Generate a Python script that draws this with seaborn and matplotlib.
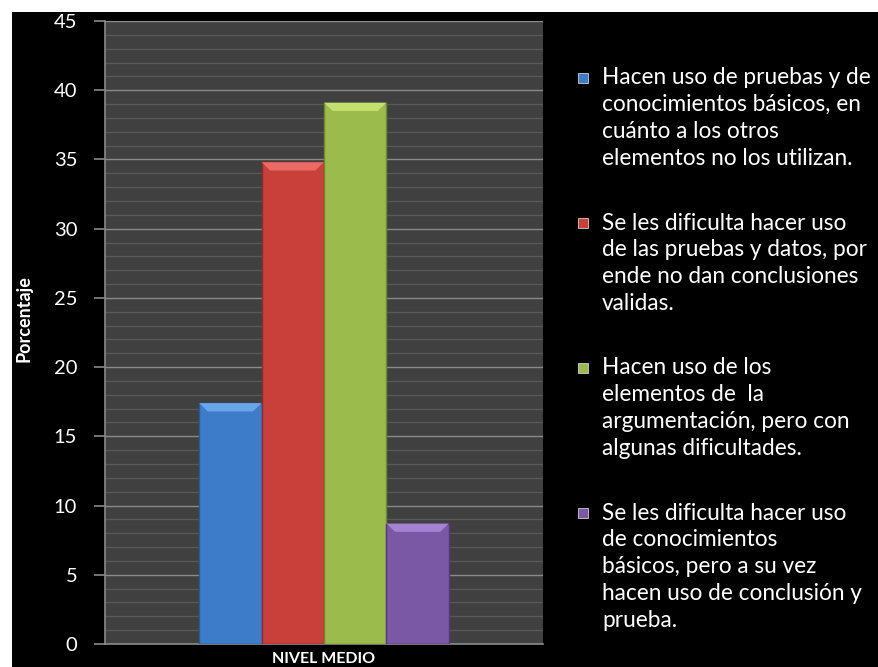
import matplotlib
matplotlib.use("Agg")
import matplotlib.pyplot as plt
from matplotlib.patches import Rectangle, Polygon
from matplotlib.ticker import MultipleLocator
import seaborn as sns
import pandas as pd

# Data
nivel = ["NIVEL MEDIO"]
categorias = [
    "Hacen uso de pruebas y de\nconocimientos básicos, en\ncuánto a los otros\nelementos no los utilizan.",
    "Se les dificulta hacer uso\nde las pruebas y datos, por\nende no dan conclusiones\nvalidas.",
    "Hacen uso de los\nelementos de  la\nargumentación, pero con\nalgunas dificultades.",
    "Se les dificulta hacer uso\nde conocimientos\nbásicos, pero a su vez\nhacen uso de conclusión y\nprueba.",
]
porcentajes = [17.4, 34.8, 39.1, 8.7]
colores = ["#3d7cc9", "#c9403b", "#9bbb4c", "#7a58a6"]
bordes = ["#2a5890", "#8e2a27", "#6d8a30", "#54397a"]
topes = ["#6aa6ea", "#ec6a64", "#c3e06e", "#a583d3"]

df = pd.DataFrame({
    "nivel": nivel * len(categorias),
    "categoria": categorias,
    "porcentaje": porcentajes,
})

sns.set_theme(style="dark")
plt.rcParams["font.family"] = ["Lato", "DejaVu Sans"]

fig = plt.figure(figsize=(8.79, 6.67), dpi=100)
fig.patch.set_facecolor("white")
# black slide background
fig.add_artist(Rectangle((12 / 879, 0), 1, 1 - 12 / 667, transform=fig.transFigure,
                         facecolor="black", edgecolor="none", zorder=-10))

ax = fig.add_axes([105 / 879, 1 - 644 / 667, 438 / 879, 623 / 667])
ax.set_facecolor("#404040")

sns.barplot(data=df, x="nivel", y="porcentaje", hue="categoria",
            palette=colores, width=0.57, legend=False, ax=ax,
            saturation=1, linewidth=1.0, zorder=3)

bars = [p for p in ax.patches if p.get_height() > 0]
for bar, ec, tc in zip(bars, bordes, topes):
    bar.set_edgecolor(ec)
    x0, w, h = bar.get_x(), bar.get_width(), bar.get_height()
    # bevelled top of each bar
    d = 0.6
    ax.add_patch(Polygon([(x0, h), (x0 + w, h), (x0 + w * 0.86, h - d), (x0 + w * 0.14, h - d)],
                         closed=True, facecolor=tc, edgecolor="none", zorder=4))

ax.set_xlim(-0.5, 0.5)
ax.set_ylim(0, 45)
ax.yaxis.set_major_locator(MultipleLocator(5))
ax.yaxis.set_minor_locator(MultipleLocator(1))
ax.grid(which="major", axis="y", color="#8a8a8a", linewidth=1.0, zorder=1)
ax.grid(which="minor", axis="y", color="#595959", linewidth=0.9, zorder=1)
ax.grid(which="major", axis="x", visible=False)
ax.set_axisbelow(True)

for side in ["top", "right"]:
    ax.spines[side].set_visible(False)
ax.spines["left"].set_color("#8a8a8a")
ax.spines["bottom"].set_color("#8a8a8a")
ax.spines["left"].set_linewidth(1.2)
ax.spines["bottom"].set_linewidth(1.2)

ax.tick_params(axis="y", which="major", left=True, length=8, width=1.2,
               color="#8a8a8a", labelcolor="white", labelsize=14.5, pad=12)
ax.tick_params(axis="y", which="minor", left=False)
ax.tick_params(axis="x", bottom=False, labelcolor="white", labelsize=11.5, pad=0)
for lbl in ax.get_xticklabels():
    lbl.set_fontweight("bold")

ax.set_xlabel("")
ax.set_ylabel("Porcentaje", color="white", fontsize=13, fontweight="bold")
ax.yaxis.set_label_coords(-0.165, 0.523)

# legend drawn beside the plot
inv = fig.transFigure
item_tops = [78, 223, 368, 513]
line_h = 26.8
for lab, col, top in zip(categorias, colores, item_tops):
    fig.add_artist(Rectangle((578 / 879, 1 - (top + 5) / 667), 10 / 879, 10 / 667,
                             transform=inv, facecolor=col, edgecolor="#cfcfcf",
                             linewidth=0.6))
    for i, line in enumerate(lab.split("\n")):
        fig.text(602 / 879, 1 - (top + i * line_h) / 667, line, color="white",
                 fontsize=16.3, va="center", ha="left")

fig.savefig("out.png", dpi=100, facecolor=fig.get_facecolor())
